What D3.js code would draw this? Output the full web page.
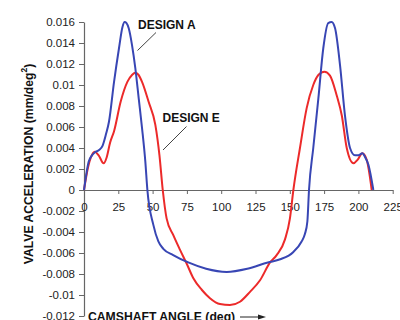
<!DOCTYPE html>
<html>
<head>
<meta charset="utf-8">
<script src="https://cdn.jsdelivr.net/npm/d3@7"></script>
<style>
  html, body { margin: 0; padding: 0; background: #fff; }
  svg { display: block; }
  text { font-family: "Liberation Sans", Arial, sans-serif; }
</style>
</head>
<body>
<script>
// ---- data ----
const anglesA = [0, 3.4, 5.8, 8, 11, 13.5, 16, 18.2, 21.9, 25.5, 28, 29.6, 31, 32.6, 35, 37.4, 39.9, 42.3, 44.7, 46.2, 50.5, 54.2, 57.8, 65, 76, 89, 104, 119, 134, 143, 152.6, 158.6, 161, 162.8, 164, 167.1, 170.8, 174.4, 178, 180.5, 183, 186.6, 190.2, 193.9, 197.5, 200, 202.9, 205, 207.3, 210.9];
const valuesA = [0, 0.0027, 0.0033, 0.0036, 0.0038, 0.0042, 0.0053, 0.0065, 0.0103, 0.0135, 0.0155, 0.016, 0.0159, 0.0154, 0.0138, 0.0116, 0.0087, 0.0059, 0.0027, 0, -0.0033, -0.0049, -0.0056, -0.0062, -0.0069, -0.0075, -0.0078, -0.0075, -0.0069, -0.0066, -0.0059, -0.0049, -0.0042, -0.003, 0, 0.004, 0.0087, 0.0135, 0.0159, 0.016, 0.0154, 0.0119, 0.0071, 0.004, 0.0033, 0.0033, 0.0035, 0.0031, 0.0024, 0];

const anglesE = [0, 3, 5, 7.8, 10.7, 14.3, 16.5, 19, 21.9, 26.7, 31.6, 35, 37.4, 39.5, 42.3, 47.1, 52, 55, 57.4, 60.2, 65.1, 70, 74.8, 79.7, 85.8, 91.8, 99.1, 106.4, 113.7, 121, 128.3, 135.6, 140.4, 146.5, 150.1, 152.6, 157.4, 162.3, 167.1, 170.8, 175.2, 179.3, 184.2, 187.9, 191.5, 196.4, 199.5, 202.9, 206, 209.7];
const valuesE = [0, 0.0022, 0.0031, 0.00365, 0.0033, 0.00254, 0.0031, 0.0045, 0.0056, 0.0084, 0.0103, 0.01095, 0.01117, 0.011, 0.0103, 0.0084, 0.0062, 0.0033, 0, -0.0027, -0.0043, -0.0057, -0.007, -0.0084, -0.0095, -0.0103, -0.01086, -0.01095, -0.01064, -0.0097, -0.0086, -0.0069, -0.0062, -0.0047, -0.0027, 0, 0.004, 0.0078, 0.01, 0.01095, 0.01127, 0.0109, 0.009, 0.0071, 0.004, 0.00254, 0.0029, 0.0035, 0.0029, 0];

const xTicks = [0, 25, 50, 75, 100, 125, 150, 175, 200, 225];
const yTicks = [0.016, 0.014, 0.012, 0.01, 0.008, 0.006, 0.004, 0.002, 0, -0.002, -0.004, -0.006, -0.008, -0.01, -0.012];

const seriesNames = ["DESIGN A", "DESIGN E"];
const yTitle = "VALVE ACCELERATION (mm/deg";
const xTitle = "CAMSHAFT ANGLE (deg)";

// ---- chart ----
const W = 400, H = 320;
const svg = d3.select("body").append("svg").attr("width", W).attr("height", H);

const x = d3.scaleLinear().domain([0, 225]).range([84, 392.7]);
const y = d3.scaleLinear().domain([-0.012, 0.016]).range([316, 22]);

const fmt = d => d === 0 ? "0" : String(+d.toFixed(3));

// y axis
const gy = svg.append("g").attr("transform", `translate(${x(0)},0)`)
  .call(d3.axisLeft(y).tickValues(yTicks).tickFormat(fmt).tickSize(5).tickSizeOuter(0).tickPadding(4));
gy.select(".domain").attr("stroke", "#666").attr("stroke-width", 1.2);
gy.selectAll(".tick line").attr("stroke", "#666");
gy.selectAll(".tick text").attr("font-size", 11.5).attr("fill", "#222")
  .attr("font-family", "'Liberation Sans', Arial, sans-serif");

// x axis at y=0
const gx = svg.append("g").attr("transform", `translate(0,${y(0)})`)
  .call(d3.axisBottom(x).tickValues(xTicks).tickFormat(d3.format("d")).tickSize(4).tickSizeOuter(0).tickPadding(9));
gx.select(".domain").attr("stroke", "#666").attr("stroke-width", 1.2);
gx.selectAll(".tick line").attr("stroke", "#666");
gx.selectAll(".tick text").attr("font-size", 11.5).attr("fill", "#222")
  .attr("font-family", "'Liberation Sans', Arial, sans-serif");

// lines
const line = d3.line().x(d => x(d[0])).y(d => y(d[1])).curve(d3.curveMonotoneX);
const dataA = anglesA.map((a, i) => [a, valuesA[i]]);
const dataE = anglesE.map((a, i) => [a, valuesE[i]]);

svg.append("path").datum(dataE).attr("d", line)
  .attr("fill", "none").attr("stroke", "#ec2a2a").attr("stroke-width", 2);
svg.append("path").datum(dataA).attr("d", line)
  .attr("fill", "none").attr("stroke", "#3846b4").attr("stroke-width", 2);

// annotations
svg.append("text").attr("x", 138).attr("y", 29).attr("font-size", 12).attr("font-weight", "bold")
  .attr("fill", "#111").text(seriesNames[0]);
svg.append("line").attr("x1", 156).attr("y1", 32.5).attr("x2", 137.5).attr("y2", 50.5)
  .attr("stroke", "#444").attr("stroke-width", 1);
svg.append("text").attr("x", 162.5).attr("y", 122).attr("font-size", 12).attr("font-weight", "bold")
  .attr("fill", "#111").text(seriesNames[1]);
svg.append("line").attr("x1", 186.5).attr("y1", 126.5).attr("x2", 163).attr("y2", 150)
  .attr("stroke", "#444").attr("stroke-width", 1);

// y title
const yt = svg.append("text").attr("transform", `translate(33,164) rotate(-90)`)
  .attr("text-anchor", "middle").attr("font-size", 12.2).attr("font-weight", "bold").attr("fill", "#111");
yt.append("tspan").text(yTitle);
yt.append("tspan").attr("font-size", 8.5).attr("dy", -6).text("2");
yt.append("tspan").attr("dy", 6).text(")");

// x title
svg.append("text").attr("x", 88).attr("y", 320.5).attr("font-size", 12.2).attr("font-weight", "bold")
  .attr("fill", "#111").text(xTitle);
svg.append("line").attr("x1", 240).attr("y1", 317).attr("x2", 262).attr("y2", 317)
  .attr("stroke", "#222").attr("stroke-width", 1);
svg.append("path").attr("d", "M258,314.5 L266,317 L258,319.5 Z").attr("fill", "#222");
</script>
</body>
</html>
